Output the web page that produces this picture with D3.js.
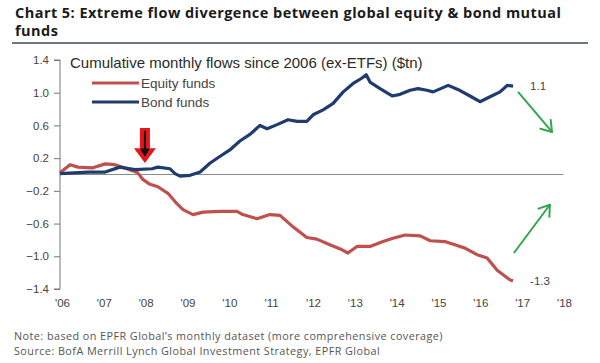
<!DOCTYPE html>
<html>
<head>
<meta charset="utf-8">
<script src="https://cdn.jsdelivr.net/npm/d3@7"></script>
<style>
  body { margin: 0; background: #fff; }
  svg { display: block; }
</style>
</head>
<body>
<svg id="chart" width="600" height="363"></svg>
<script>
// year (decimal), cumulative flow ($tn)
let equityFlows = [
  [2006.00, 0.02], [2006.24, 0.12], [2006.43, 0.09], [2006.77, 0.08], [2007.08, 0.13],
  [2007.31, 0.12], [2007.55, 0.08], [2007.86, 0.02], [2007.98, -0.06], [2008.15, -0.12],
  [2008.34, -0.15], [2008.58, -0.23], [2008.80, -0.36], [2008.94, -0.43], [2009.18, -0.49],
  [2009.42, -0.46], [2009.82, -0.45], [2010.23, -0.45], [2010.37, -0.49], [2010.71, -0.54],
  [2011.02, -0.49], [2011.26, -0.50], [2011.57, -0.64], [2011.90, -0.77], [2012.14, -0.79],
  [2012.45, -0.86], [2012.70, -0.91], [2012.88, -0.96], [2013.10, -0.88], [2013.41, -0.88],
  [2013.72, -0.82], [2013.96, -0.78], [2014.25, -0.74], [2014.61, -0.75], [2014.85, -0.81],
  [2015.20, -0.82], [2015.44, -0.86], [2015.68, -0.90], [2015.97, -0.98], [2016.21, -1.02],
  [2016.45, -1.17], [2016.76, -1.29], [2016.83, -1.30]
];
let bondFlows = [
  [2006.00, 0.01], [2006.67, 0.03], [2007.08, 0.03], [2007.43, 0.09], [2007.79, 0.06],
  [2008.20, 0.07], [2008.34, 0.09], [2008.63, 0.07], [2008.75, 0.01], [2008.87, -0.02],
  [2009.11, -0.01], [2009.35, 0.03], [2009.59, 0.14], [2009.82, 0.22], [2010.06, 0.30],
  [2010.30, 0.41], [2010.54, 0.49], [2010.78, 0.60], [2010.95, 0.56], [2011.19, 0.61],
  [2011.45, 0.67], [2011.67, 0.65], [2011.90, 0.65], [2012.05, 0.73], [2012.29, 0.79],
  [2012.53, 0.87], [2012.77, 1.01], [2013.00, 1.11], [2013.22, 1.18], [2013.32, 1.22],
  [2013.41, 1.13], [2013.65, 1.05], [2013.94, 0.96], [2014.13, 0.98], [2014.37, 1.03],
  [2014.56, 1.05], [2014.77, 1.03], [2014.92, 1.01], [2015.28, 1.09], [2015.51, 1.04],
  [2015.80, 0.96], [2016.04, 0.89], [2016.28, 0.95], [2016.52, 1.01], [2016.69, 1.09],
  [2016.83, 1.08]
];
let yTicks = [1.4, 1.0, 0.6, 0.2, -0.2, -0.6, -1.0, -1.4];
let xYears = [2006, 2007, 2008, 2009, 2010, 2011, 2012, 2013, 2014, 2015, 2016, 2017, 2018];
let seriesNames = ["Equity funds", "Bond funds"];
let endLabels = ["-1.3", "1.1"];

let svg = d3.select("#chart");

let x = d3.scaleLinear().domain([2006, 2018]).range([60, 562]);
let y = d3.scaleLinear().domain([-1.4, 1.4]).range([289, 60]);

// title
svg.append("text")
  .attr("x", 15).attr("y", 18)
  .attr("font-family", "Open Sans").attr("font-weight", "bold")
  .attr("font-size", 14.5).attr("letter-spacing", 0.45).attr("fill", "#1a1a1a")
  .text("Chart 5: Extreme flow divergence between global equity & bond mutual");
svg.append("text")
  .attr("x", 15).attr("y", 36)
  .attr("font-family", "Open Sans").attr("font-weight", "bold")
  .attr("font-size", 14.5).attr("letter-spacing", 0.45).attr("fill", "#1a1a1a")
  .text("funds");
svg.append("line")
  .attr("x1", 12).attr("x2", 588).attr("y1", 43).attr("y2", 43)
  .attr("stroke", "#3d4b5c").attr("stroke-width", 1.5);

// subtitle
svg.append("text")
  .attr("x", 70).attr("y", 68)
  .attr("font-family", "Liberation Sans").attr("font-size", 15)
  .attr("fill", "#2a2a2a")
  .text("Cumulative monthly flows since 2006 (ex-ETFs) ($tn)");

// y axis
let yAxis = d3.axisLeft(y).tickValues(yTicks).tickSize(6).tickPadding(5)
  .tickFormat(d3.format(".1f"));
let gy = svg.append("g").attr("transform", "translate(60,0)").call(yAxis);
gy.select(".domain").attr("stroke", "#777").attr("d", "M-6,60H0V289H-6");
gy.selectAll(".tick line").attr("stroke", "#777");
gy.selectAll(".tick text")
  .attr("font-family", "Liberation Sans").attr("font-size", 11.5).attr("fill", "#444");

// x labels
let xAxis = d3.axisBottom(x).tickValues(xYears).tickSize(0)
  .tickFormat(d => "'" + String(d).slice(2));
let gx = svg.append("g").attr("transform", "translate(2,296)").call(xAxis);
gx.select(".domain").remove();
gx.selectAll(".tick text")
  .attr("font-family", "Liberation Sans").attr("font-size", 11.5).attr("fill", "#444");

// zero line
svg.append("line")
  .attr("x1", x(2006)).attr("x2", x(2018.03))
  .attr("y1", y(0)).attr("y2", y(0))
  .attr("stroke", "#8a8a8a").attr("stroke-width", 1);

// lines
let line = d3.line().x(d => x(d[0])).y(d => y(d[1]));
let colors = ["#c0504d", "#1f3b6f"];
[equityFlows, bondFlows].forEach((s, i) => {
  svg.append("path")
    .datum(s)
    .attr("d", line)
    .attr("fill", "none")
    .attr("stroke", colors[i])
    .attr("stroke-width", 3.2)
    .attr("stroke-linejoin", "round");
  let last = s[s.length - 1];
  svg.append("text")
    .attr("x", x(last[0]) + 17).attr("y", y(last[1]) + 4)
    .attr("font-family", "Liberation Sans").attr("font-size", 11.5).attr("fill", "#444")
    .text(endLabels[i]);
});

// legend
seriesNames.forEach((n, i) => {
  let ly = 83 + i * 19;
  svg.append("line")
    .attr("x1", 92).attr("x2", 139).attr("y1", ly).attr("y2", ly)
    .attr("stroke", colors[i]).attr("stroke-width", 3.2);
  svg.append("text")
    .attr("x", 141).attr("y", ly + 5)
    .attr("font-family", "Liberation Sans").attr("font-size", 13.5).attr("fill", "#444")
    .text(n);
});

// red arrow at 2008
let ax = x(2008.03), aTop = y(0.57), aBot = y(0.14);
let aMid = aTop + (aBot - aTop) * 0.58;
svg.append("path")
  .attr("d", `M${ax - 5},${aTop} H${ax + 5} V${aMid} H${ax + 11} L${ax},${aBot} L${ax - 11},${aMid} H${ax - 5} Z`)
  .attr("fill", "#e8141c");
svg.append("line")
  .attr("x1", ax).attr("x2", ax).attr("y1", aTop + 3).attr("y2", aBot - 10)
  .attr("stroke", "#111").attr("stroke-width", 2);
svg.append("path")
  .attr("d", `M${ax - 4},${aBot - 14} L${ax},${aBot - 7} L${ax + 4},${aBot - 14} Z`)
  .attr("fill", "#111").attr("stroke", "#111").attr("stroke-width", 1);

// green arrows
let green = "#2fa84f";
function arrow(x0, y0, x1, y1) {
  let px0 = x(x0), py0 = y(y0), px1 = x(x1), py1 = y(y1);
  let ang = Math.atan2(py1 - py0, px1 - px0);
  let len = 12;
  svg.append("line")
    .attr("x1", px0).attr("y1", py0).attr("x2", px1).attr("y2", py1)
    .attr("stroke", green).attr("stroke-width", 2);
  [-0.6, 0.6].forEach(da => {
    svg.append("line")
      .attr("x1", px1).attr("y1", py1)
      .attr("x2", px1 - len * Math.cos(ang + da))
      .attr("y2", py1 - len * Math.sin(ang + da))
      .attr("stroke", green).attr("stroke-width", 2).attr("stroke-linecap", "round");
  });
}
arrow(2016.95, 1.01, 2017.76, 0.52);
arrow(2016.85, -0.96, 2017.71, -0.37);

// footnotes
svg.append("text")
  .attr("x", 14).attr("y", 340)
  .attr("font-family", "Open Sans").attr("font-size", 10.8).attr("letter-spacing", 0.45)
  .attr("fill", "#555")
  .text("Note: based on EPFR Global\u2019s monthly dataset (more comprehensive coverage)");
svg.append("text")
  .attr("x", 14).attr("y", 355)
  .attr("font-family", "Open Sans").attr("font-size", 10.8).attr("letter-spacing", 0.45)
  .attr("fill", "#555")
  .text("Source: BofA Merrill Lynch Global Investment Strategy, EPFR Global");
</script>
</body>
</html>
